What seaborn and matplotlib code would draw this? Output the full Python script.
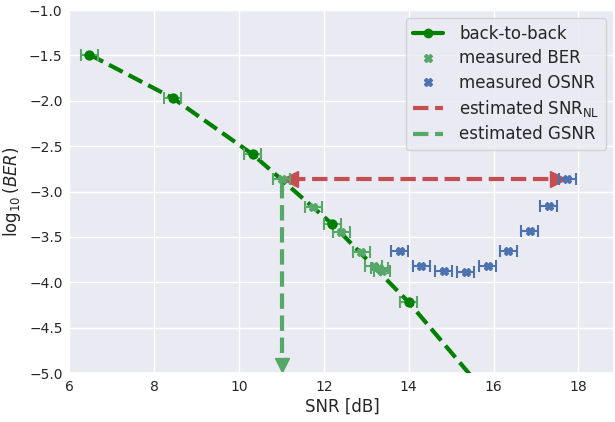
import numpy as np
import pandas as pd
import seaborn as sns
import matplotlib
matplotlib.use("Agg")
import matplotlib.pyplot as plt
from matplotlib.lines import Line2D

# ---- data ----
b2b_snr = [6.47, 8.44, 10.32, 12.2, 14.0]
b2b_ber = [-1.49, -1.97, -2.59, -3.36, -4.22]
# dashed back-to-back fit line (extends past the data)
b2b_fit_snr = [6.47, 8.44, 10.32, 12.2, 14.0, 15.45]
b2b_fit_ber = [-1.49, -1.97, -2.59, -3.36, -4.22, -5.02]

ber_snr = [11.0, 11.75, 12.41, 12.88, 13.18, 13.3, 13.37]
ber_val = [-2.86, -3.17, -3.45, -3.67, -3.82, -3.84, -3.88]

osnr_snr = [13.79, 14.29, 14.83, 15.34, 15.86, 16.35, 16.85, 17.3, 17.74]
osnr_ber = [-3.66, -3.82, -3.88, -3.89, -3.82, -3.66, -3.43, -3.16, -2.86]

snr_err = 0.2

snrnl_from = 11.2
snrnl_to = 17.52
snrnl_level = -2.86

gsnr_x = 11.0
gsnr_top = -2.9
gsnr_bottom = -4.91

# ---- style ----
sns.set_theme(context="notebook", style="darkgrid")
plt.rcParams["font.family"] = ["DejaVu Sans"]

green_dark = "green"
green = "#55a868"
blue = "#4c72b0"
red = "#c44e52"

fig, ax = plt.subplots(figsize=(6.15, 4.22), dpi=100)
fig.subplots_adjust(left=0.113, right=0.999, bottom=0.116, top=0.976)

# estimated GSNR (vertical arrow)
ax.plot([gsnr_x, gsnr_x], [gsnr_top, gsnr_bottom], ls="--", lw=3, color=green, zorder=2)
ax.plot([gsnr_x], [gsnr_bottom], marker="v", ms=10, color=green, ls="none", zorder=2)

# back-to-back fit line
sns.lineplot(x=b2b_fit_snr, y=b2b_fit_ber, ax=ax, color=green_dark, lw=3,
             linestyle="--", sort=False, zorder=3)

# error bars for back-to-back points
ax.errorbar(b2b_snr, b2b_ber, xerr=snr_err, fmt="none", ecolor=green,
            elinewidth=1.5, capsize=4, capthick=1.5, zorder=3)
sns.scatterplot(x=b2b_snr, y=b2b_ber, ax=ax, color=green_dark, marker="o", s=55,
                edgecolor=green_dark, linewidth=0, zorder=5)

# measured BER
ax.errorbar(ber_snr, ber_val, xerr=snr_err, fmt="X", color=green, ms=6,
            ecolor=green, elinewidth=1.5, capsize=4, capthick=1.5, zorder=4)

# measured OSNR
ax.errorbar(osnr_snr, osnr_ber, xerr=snr_err, fmt="X", color=blue, ms=6,
            ecolor=blue, elinewidth=1.5, capsize=4, capthick=1.5, zorder=4)

# estimated SNR_NL (double arrow)
ax.plot([snrnl_from, snrnl_to], [snrnl_level, snrnl_level], ls="--", lw=3,
        color=red, zorder=3)
ax.plot([snrnl_from], [snrnl_level], marker="<", ms=11, color=red, ls="none", zorder=3)
ax.plot([snrnl_to], [snrnl_level], marker=">", ms=11, color=red, ls="none", zorder=3)

ax.set_xlim(6, 18.85)
ax.set_ylim(-5, -1)
ax.set_xticks([6, 8, 10, 12, 14, 16, 18])
ax.set_yticks(np.arange(-5, -0.99, 0.5))
ax.tick_params(axis="both", length=0, pad=5, labelsize=10)
ax.set_xlabel("SNR [dB]", fontsize=12, labelpad=3)
ax.set_ylabel(r"$\log_{10}(BER)$", fontsize=12, labelpad=4)

handles = [
    Line2D([], [], color=green_dark, lw=3, marker="o", ms=6),
    Line2D([], [], color=green, ls="none", marker="X", ms=6),
    Line2D([], [], color=blue, ls="none", marker="X", ms=6),
    Line2D([], [], color=red, lw=3, ls="--"),
    Line2D([], [], color=green, lw=3, ls="--"),
]
labels = ["back-to-back", "measured BER", "measured OSNR",
          r"estimated SNR$_{\mathrm{NL}}$", "estimated GSNR"]
ax.legend(handles, labels, loc="upper right", fontsize=12, framealpha=0.8,
          labelspacing=0.38, handlelength=1.8, handletextpad=1.0)

fig.savefig("out.png", dpi=100)
